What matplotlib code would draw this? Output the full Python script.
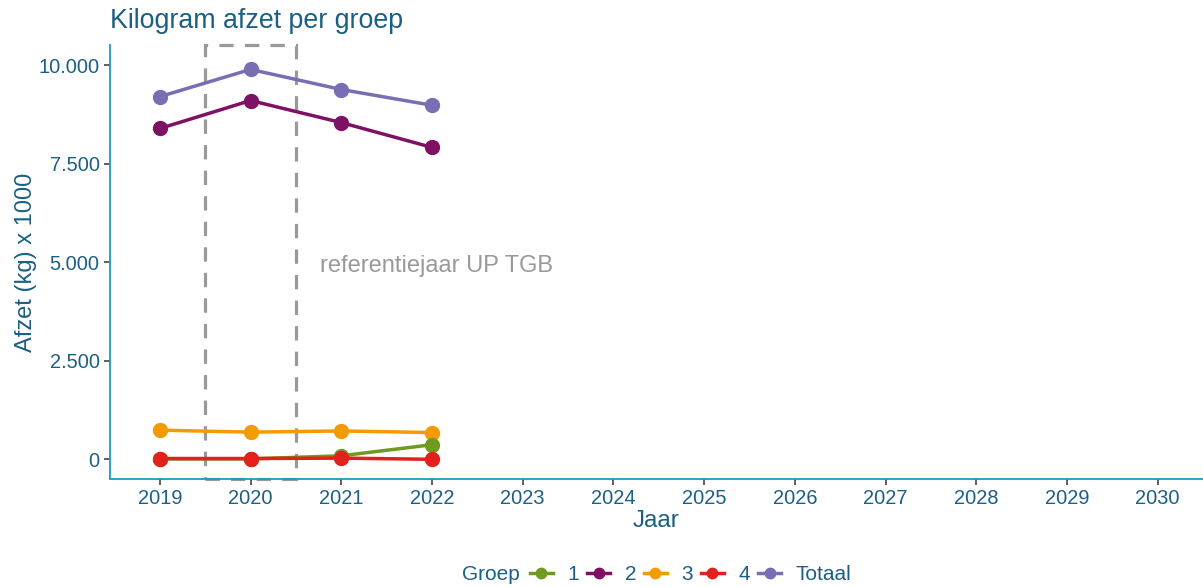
import numpy as np
import matplotlib
matplotlib.use('Agg')
import matplotlib.pyplot as plt
from matplotlib.lines import Line2D
from matplotlib.patches import Rectangle
from matplotlib.ticker import FuncFormatter

plt.rcParams['font.family'] = ['Liberation Sans', 'DejaVu Sans']

# Data (kg x 1000)
jaren = [2019, 2020, 2021, 2022]
groep_1 = [10, 10, 90, 370]
groep_2 = [8400, 9110, 8550, 7920]
groep_3 = [740, 690, 720, 680]
groep_4 = [20, 20, 30, 0]
totaal = [9210, 9900, 9390, 8990]

labels = ['1', '2', '3', '4', 'Totaal']
colors = ['#6f9a1f', '#7f1165', '#f39b00', '#e3201b', '#7a6db3']
series = [groep_1, groep_2, groep_3, groep_4, totaal]

x_ticks = list(range(2019, 2031))
y_ticks = [0, 2500, 5000, 7500, 10000]
REF_JAAR = 2020

TEXT_COL = '#1c5f82'
SPINE_COL = '#1a9cc0'
GREY = '#999999'

fig = plt.figure(figsize=(12.03, 5.87), dpi=100)
ax = fig.add_axes([110 / 1203, 1 - 479 / 587, 1 - 110 / 1203, (479 - 45) / 587])

# reference year box
rect = Rectangle((REF_JAAR - 0.5, -500), 1.0, 11020, fill=False, edgecolor=GREY,
                 linewidth=2.3, linestyle=(0, (4.5, 3.5)), clip_on=False, zorder=1)
ax.add_patch(rect)
ax.text(REF_JAAR + 0.77, 4920, 'referentiejaar UP TGB', color=GREY, fontsize=17,
        ha='left', va='center')

# draw order: Totaal, 2, 3, 1, 4 so red sits on top of green like the original
order = [4, 1, 2, 0, 3]
for i in order:
    ax.plot(jaren, series[i], color=colors[i], linewidth=2.5, marker='o',
            markersize=10, zorder=3)

ax.set_xlim(2018.45, 2030.5)
ax.set_ylim(-500, 10520)
ax.set_xticks(x_ticks)
ax.set_yticks(y_ticks)
ax.yaxis.set_major_formatter(FuncFormatter(lambda v, p: f'{int(v):,}'.replace(',', '.')))

for s in ['top', 'right']:
    ax.spines[s].set_visible(False)
for s in ['left', 'bottom']:
    ax.spines[s].set_color(SPINE_COL)
    ax.spines[s].set_linewidth(1.3)
ax.tick_params(axis='both', colors='#333333', labelcolor=TEXT_COL, labelsize=14.4,
               length=4, width=1.1)

ax.set_xlabel('Jaar', color=TEXT_COL, fontsize=17.5, labelpad=1)
ax.set_ylabel('Afzet (kg) x 1000', color=TEXT_COL, fontsize=17, labelpad=1)
fig.text(110 / 1203, 1 - 21 / 587, 'Kilogram afzet per groep', color=TEXT_COL,
         fontsize=19.3, ha='left', va='center')

# legend, horizontal with title on the same line
handles = [Line2D([], [], color=c, linewidth=2.5, marker='o', markersize=7.5) for c in colors]
fig.text(462 / 1203, 1 - 575 / 587, 'Groep', color=TEXT_COL, fontsize=15,
         ha='left', va='center')
leg = fig.legend(handles, labels, loc='center left', bbox_to_anchor=(530 / 1203, 1 - 575 / 587),
                 ncol=5, frameon=False, fontsize=15, handlelength=1.1, handletextpad=0.7,
                 columnspacing=0.38, borderpad=0, borderaxespad=0)
for t in leg.get_texts():
    t.set_color(TEXT_COL)

fig.savefig('out.png', dpi=100)
